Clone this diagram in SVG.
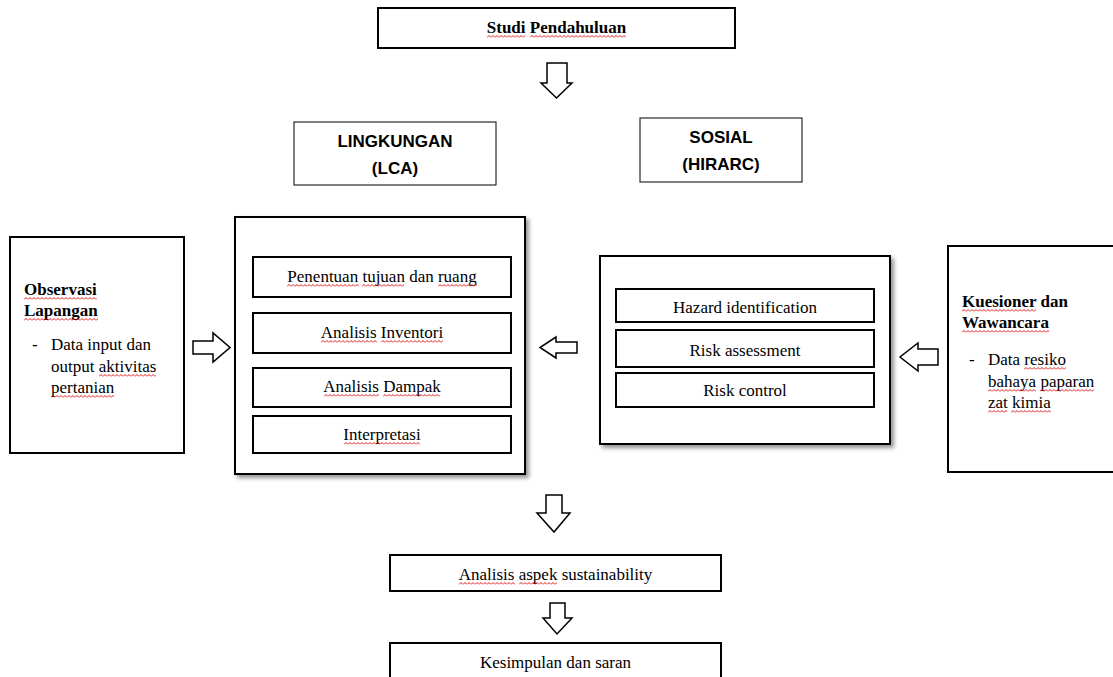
<svg xmlns="http://www.w3.org/2000/svg" width="1113" height="677" viewBox="0 0 1113 677">
<defs>
<style>
.box{fill:#fff;stroke:#000;stroke-width:2}
.arr{fill:#fff;stroke:#000;stroke-width:1.5;stroke-linejoin:miter}
.t{font-family:"Liberation Serif","Times New Roman",serif;font-size:17px;fill:#000}
.tc{text-anchor:middle}
.b{font-weight:bold}
.s{font-family:"Liberation Sans",Arial,sans-serif;font-size:17px;font-weight:bold;fill:#000;text-anchor:middle}
.sq{fill:url(#wave)}
</style>
<pattern id="wave" patternUnits="userSpaceOnUse" width="4" height="3">
<path d="M0,2.5 L2,0.5 L4,2.5" fill="none" stroke="#e00000" stroke-width="0.9"/>
</pattern>
<filter id="sh" x="-5%" y="-5%" width="115%" height="115%">
<feDropShadow dx="3" dy="3" stdDeviation="2" flood-color="#777" flood-opacity="0.8"/>
</filter>
</defs>
<rect width="1113" height="677" fill="#fff"/>

<g id="studi">
<rect class="box" x="378" y="8" width="357" height="40"/>
<text class="t tc b" x="556.5" y="33">Studi Pendahuluan</text>
<rect class="sq" transform="translate(487,35)" width="38" height="3"/>
<rect class="sq" transform="translate(530,35)" width="96" height="3"/>
</g>

<g id="lingkungan">
<rect x="294" y="122" width="202" height="63" fill="#fff" stroke="#000" stroke-width="1"/>
<text class="s" x="395" y="147">LINGKUNGAN</text>
<text class="s" x="395" y="174">(LCA)</text>
</g>

<g id="sosial">
<rect x="640" y="118" width="162" height="64" fill="#fff" stroke="#000" stroke-width="1"/>
<text class="s" x="721" y="143">SOSIAL</text>
<text class="s" x="721" y="170">(HIRARC)</text>
</g>

<g id="observasi">
<rect class="box" x="10" y="237" width="174" height="216"/>
<text class="t b" x="24" y="295">Observasi</text>
<text class="t b" x="24" y="316">Lapangan</text>
<text class="t" x="32" y="350">-</text>
<text class="t" x="51" y="350">Data input dan</text>
<text class="t" x="51" y="372">output aktivitas</text>
<text class="t" x="51" y="393">pertanian</text>
<rect class="sq" transform="translate(24,297)" width="73" height="3"/>
<rect class="sq" transform="translate(24,318)" width="74" height="3"/>
<rect class="sq" transform="translate(99,374)" width="57" height="3"/>
<rect class="sq" transform="translate(51,395)" width="63" height="3"/>
</g>

<g id="lca">
<rect class="box" x="235" y="217" width="290" height="257" filter="url(#sh)"/>
<g id="lca1">
<rect class="box" x="253" y="257" width="258" height="40"/>
<text class="t tc" x="382" y="282">Penentuan tujuan dan ruang</text>
<rect class="sq" transform="translate(287,284)" width="72" height="3"/>
<rect class="sq" transform="translate(362,284)" width="42" height="3"/>
<rect class="sq" transform="translate(438,284)" width="39" height="3"/>
</g>
<g id="lca2">
<rect class="box" x="253" y="313" width="258" height="40"/>
<text class="t tc" x="382" y="338">Analisis Inventori</text>
<rect class="sq" transform="translate(321,340)" width="56" height="3"/>
<rect class="sq" transform="translate(381,340)" width="62" height="3"/>
</g>
<g id="lca3">
<rect class="box" x="253" y="368" width="258" height="39"/>
<text class="t tc" x="382" y="392">Analisis Dampak</text>
<rect class="sq" transform="translate(324,394)" width="55" height="3"/>
<rect class="sq" transform="translate(383,394)" width="57" height="3"/>
</g>
<g id="lca4">
<rect class="box" x="253" y="416" width="258" height="37"/>
<text class="t tc" x="382" y="440">Interpretasi</text>
<rect class="sq" transform="translate(344,442)" width="76" height="3"/>
</g>
</g>

<g id="hirarc">
<rect class="box" x="600" y="256" width="290" height="188" filter="url(#sh)"/>
<g id="h1">
<rect class="box" x="616" y="289" width="258" height="33"/>
<text class="t tc" x="745" y="313">Hazard identification</text>
</g>
<g id="h2">
<rect class="box" x="616" y="330" width="258" height="37"/>
<text class="t tc" x="745" y="356">Risk assessment</text>
</g>
<g id="h3">
<rect class="box" x="616" y="373" width="258" height="34"/>
<text class="t tc" x="745" y="396">Risk control</text>
</g>
</g>

<g id="kuesioner">
<rect class="box" x="948" y="246" width="175" height="226"/>
<text class="t b" x="962" y="307">Kuesioner dan</text>
<text class="t b" x="962" y="328">Wawancara</text>
<text class="t" x="969" y="365">-</text>
<text class="t" x="988" y="365">Data resiko</text>
<text class="t" x="988" y="387">bahaya paparan</text>
<text class="t" x="988" y="408">zat kimia</text>
<rect class="sq" transform="translate(962,309)" width="74" height="3"/>
<rect class="sq" transform="translate(962,330)" width="87" height="3"/>
<rect class="sq" transform="translate(1024,367)" width="42" height="3"/>
<rect class="sq" transform="translate(988,389)" width="48" height="3"/>
<rect class="sq" transform="translate(1040,389)" width="54" height="3"/>
<rect class="sq" transform="translate(988,410)" width="19" height="3"/>
<rect class="sq" transform="translate(1011,410)" width="40" height="3"/>
</g>

<g id="sustain">
<rect class="box" x="390" y="555" width="331" height="36"/>
<text class="t tc" x="555.5" y="580">Analisis aspek sustainability</text>
<rect class="sq" transform="translate(459,582)" width="56" height="3"/>
<rect class="sq" transform="translate(519,582)" width="38" height="3"/>
</g>

<g id="kesimpulan">
<rect class="box" x="390" y="643" width="331" height="50"/>
<text class="t tc" x="555.5" y="668">Kesimpulan dan saran</text>
</g>

<g id="connectors">
<polygon class="arr" points="547,63 567,63 567,83 572,83 556.5,98 541,83 547,83"/>
<polygon class="arr" points="193,341 213,341 213,333 230,347.5 213,362 213,354 193,354"/>
<polygon class="arr" points="577,342 556,342 556,337 540,347.5 556,358 556,353 577,353"/>
<polygon class="arr" points="938,349 918,349 918,343 900,357 918,371 918,365 938,365"/>
<polygon class="arr" points="546,495 562,495 562,513 570,513 554,532 537,513 546,513"/>
<polygon class="arr" points="550,603 565,603 565,618 572,618 557,634 543,618 550,618"/>
</g>
</svg>
